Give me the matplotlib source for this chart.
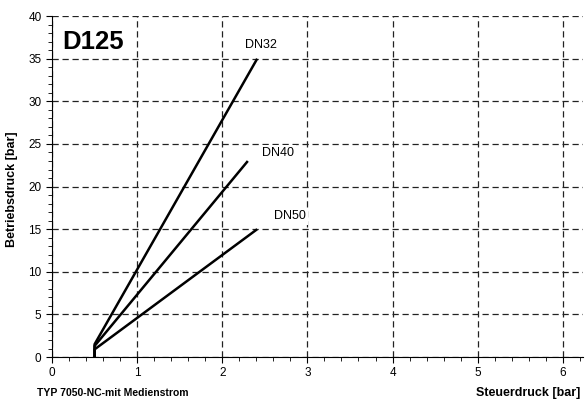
import numpy as np
import matplotlib
matplotlib.use('Agg')
import matplotlib.pyplot as mplt
from matplotlib.ticker import MultipleLocator

mplt.rcParams['font.family'] = ['Liberation Sans', 'DejaVu Sans']

## -------------------------------------------------------------------------- ##
# Kennlinien (Steuerdruck [bar], Betriebsdruck [bar])
dn32_x = [0.5, 0.5, 2.41]
dn32_y = [0.0, 1.5, 35.0]
dn40_x = [0.5, 0.5, 2.30]
dn40_y = [0.0, 1.3, 23.0]
dn50_x = [0.5, 0.5, 2.41]
dn50_y = [0.0, 0.9, 15.0]
labels = ['DN32', 'DN40', 'DN50']
label_pos = [(2.46, 36.6), (2.65, 23.9), (2.80, 16.5)]
## -------------------------------------------------------------------------- ##
fig = mplt.figure(figsize=(5.87, 4.03), dpi=100)
ax = fig.add_axes([0.0886, 0.114, 0.905, 0.846])

for xs, ys in [(dn32_x, dn32_y), (dn40_x, dn40_y), (dn50_x, dn50_y)]:
  ax.plot(xs, ys, color='black', lw=1.8, solid_capstyle='butt')

for lab, (lx, ly) in zip(labels, label_pos):
  ax.text(lx, ly, lab, fontsize=9, ha='center', va='center',
          bbox=dict(facecolor='white', edgecolor='none', pad=1.5))

ax.text(0.019, 0.96, 'D125', transform=ax.transAxes, fontsize=18.5,
        fontweight='bold', ha='left', va='top')

ax.set_xlim(0, 6.24)
ax.set_ylim(0, 40)
ax.xaxis.set_major_locator(MultipleLocator(1))
ax.xaxis.set_minor_locator(MultipleLocator(0.2))
ax.yaxis.set_major_locator(MultipleLocator(5))
ax.yaxis.set_minor_locator(MultipleLocator(1))
ax.grid(True, which='major', color='#222222', ls=(0, (5, 3)), lw=0.9)
ax.tick_params(which='major', direction='out', length=4, labelsize=8.5)
ax.tick_params(which='minor', direction='out', length=3)
for s in ['top', 'right']:
  ax.spines[s].set_visible(False)

fig.text(0.988, 0.026, 'Steuerdruck [bar]', fontsize=9, fontweight='bold',
         ha='right', va='center')
fig.text(0.063, 0.026, 'TYP 7050-NC-mit Medienstrom', fontsize=7.5,
         fontweight='bold', ha='left', va='center')
fig.text(0.021, 0.53, 'Betriebsdruck [bar]', fontsize=9, fontweight='bold',
         rotation=90, ha='center', va='center')

mplt.savefig('out.png', dpi=100)
